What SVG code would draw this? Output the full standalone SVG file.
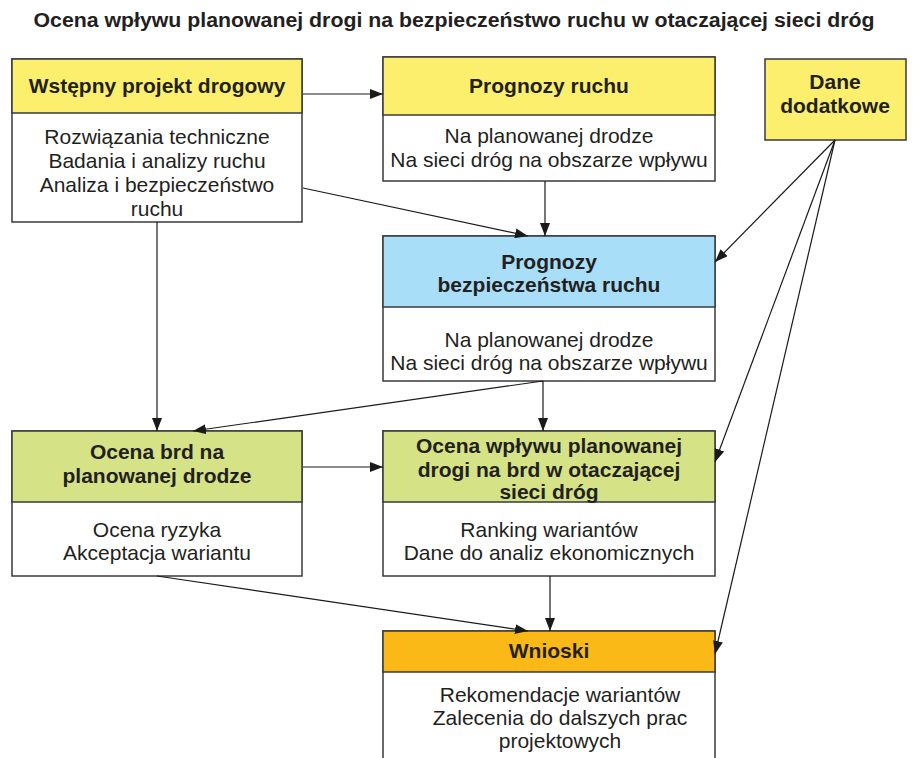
<svg xmlns="http://www.w3.org/2000/svg" width="918" height="758" viewBox="0 0 918 758">
<defs>
<marker id="arr" markerUnits="userSpaceOnUse" markerWidth="14" markerHeight="10" refX="13" refY="5" orient="auto">
<path d="M0,0 L13,5 L0,10 z" fill="#1a1a1a"/>
</marker>
<style>
.box{stroke:#3a3a3a;stroke-width:1.5;}
.w{fill:#ffffff;}
.y{fill:#fcef6e;}
.b{fill:#a9def9;}
.g{fill:#d5e286;}
.o{fill:#fbb917;}
.h{font-family:"Liberation Sans",Arial,sans-serif;font-weight:bold;font-size:21px;fill:#231f20;text-anchor:middle;}
.t{font-family:"Liberation Sans",Arial,sans-serif;font-size:21px;fill:#231f20;text-anchor:middle;}
.c{stroke:#1a1a1a;stroke-width:1.2;fill:none;marker-end:url(#arr);}
</style>
</defs>
<rect width="918" height="758" fill="#ffffff"/>
<text x="454" y="27" font-family="'Liberation Sans',Arial,sans-serif" font-weight="bold" font-size="20" fill="#231f20" text-anchor="middle" textLength="841" lengthAdjust="spacingAndGlyphs">Ocena wpływu planowanej drogi na bezpieczeństwo ruchu w otaczającej sieci dróg</text>

<g id="n1">
<rect class="box w" x="12" y="59" width="290" height="163"/>
<rect class="box y" x="12" y="59" width="290" height="54"/>
<text class="h" x="157" y="93">Wstępny projekt drogowy</text>
<text class="t" x="157" y="144">Rozwiązania techniczne</text>
<text class="t" x="157" y="168">Badania i analizy ruchu</text>
<text class="t" x="157" y="192">Analiza i bezpieczeństwo</text>
<text class="t" x="157" y="216">ruchu</text>
</g>

<g id="n2">
<rect class="box w" x="383" y="57" width="332" height="124"/>
<rect class="box y" x="383" y="57" width="332" height="58"/>
<text class="h" x="549" y="93">Prognozy ruchu</text>
<text class="t" x="549" y="143">Na planowanej drodze</text>
<text class="t" x="549" y="167">Na sieci dróg na obszarze wpływu</text>
</g>

<g id="n3">
<rect class="box y" x="765" y="59" width="141" height="81"/>
<text class="h" x="835" y="89">Dane</text>
<text class="h" x="835" y="113">dodatkowe</text>
</g>

<g id="n4">
<rect class="box w" x="383" y="236" width="332" height="145"/>
<rect class="box b" x="383" y="236" width="332" height="71"/>
<text class="h" x="549" y="269">Prognozy</text>
<text class="h" x="549" y="292">bezpieczeństwa ruchu</text>
<text class="t" x="549" y="347">Na planowanej drodze</text>
<text class="t" x="549" y="370">Na sieci dróg na obszarze wpływu</text>
</g>

<g id="n5">
<rect class="box w" x="12" y="431" width="290" height="145"/>
<rect class="box g" x="12" y="431" width="290" height="71"/>
<text class="h" x="157" y="459">Ocena brd na</text>
<text class="h" x="157" y="483">planowanej drodze</text>
<text class="t" x="157" y="537">Ocena ryzyka</text>
<text class="t" x="157" y="560">Akceptacja wariantu</text>
</g>

<g id="n6">
<rect class="box w" x="383" y="431" width="332" height="145"/>
<rect class="box g" x="383" y="431" width="332" height="71"/>
<text class="h" x="549" y="453">Ocena wpływu planowanej</text>
<text class="h" x="549" y="477">drogi na brd w otaczającej</text>
<text class="h" x="549" y="499">sieci dróg</text>
<text class="t" x="549" y="537">Ranking wariantów</text>
<text class="t" x="549" y="560">Dane do analiz ekonomicznych</text>
</g>

<g id="n7">
<rect class="box w" x="383" y="631" width="332" height="140"/>
<rect class="box o" x="383" y="631" width="332" height="41"/>
<text class="h" x="549" y="658">Wnioski</text>
<text class="t" x="560" y="702">Rekomendacje wariantów</text>
<text class="t" x="560" y="725">Zalecenia do dalszych prac</text>
<text class="t" x="560" y="748">projektowych</text>
</g>

<g id="connectors">
<line class="c" x1="303" y1="94" x2="383" y2="94"/>
<line class="c" x1="303" y1="188" x2="528" y2="236"/>
<line class="c" x1="545" y1="181" x2="545" y2="236"/>
<line class="c" x1="835" y1="140" x2="715" y2="262"/>
<line class="c" x1="835" y1="140" x2="715" y2="462"/>
<line class="c" x1="835" y1="140" x2="715" y2="654"/>
<line class="c" x1="157" y1="222" x2="157" y2="431"/>
<line class="c" x1="543" y1="381" x2="193" y2="431"/>
<line class="c" x1="543" y1="381" x2="543" y2="431"/>
<line class="c" x1="303" y1="467" x2="383" y2="467"/>
<line class="c" x1="157" y1="576" x2="528" y2="631"/>
<line class="c" x1="550" y1="576" x2="550" y2="631"/>
</g>
</svg>
